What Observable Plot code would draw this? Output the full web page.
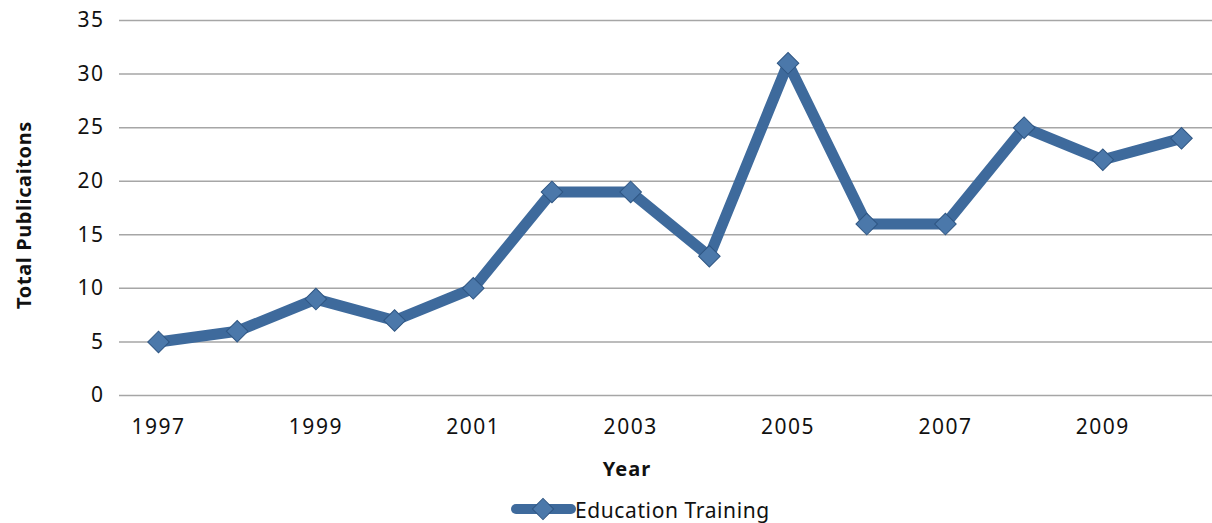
<!DOCTYPE html>
<html>
<head>
<meta charset="utf-8">
<script src="https://cdn.jsdelivr.net/npm/d3@7"></script>
<script src="https://cdn.jsdelivr.net/npm/@observablehq/plot@0.6"></script>
<style>
  html, body { margin: 0; padding: 0; background: #fff; }
  body { width: 1212px; height: 523px; overflow: hidden; font-family: "Noto Sans", "DejaVu Sans", sans-serif; }
  #legend { position: relative; height: 38px; }
  #legend svg { position: absolute; left: 510px; top: 9px; }
  #legend span { position: absolute; left: 575px; top: 12px; font-size: 21px; letter-spacing: 0.6px; color: #111; line-height: 26px; }
</style>
</head>
<body>
<div id="chart"></div>
<div id="legend"></div>
<script>
const years = [1997, 1998, 1999, 2000, 2001, 2002, 2003, 2004, 2005, 2006, 2007, 2008, 2009, 2010];
const publications = [5, 6, 9, 7, 10, 19, 19, 13, 31, 16, 16, 25, 22, 24];
const yTicks = [0, 5, 10, 15, 20, 25, 30, 35];
const xTicks = [1997, 1999, 2001, 2003, 2005, 2007, 2009];
const seriesName = "Education Training";

const data = years.map((y, i) => ({year: y, value: publications[i]}));
const lineColor = "#3e6a9c";
const dotColor = "#4b78aa";

const plot = Plot.plot({
  width: 1212,
  height: 485,
  marginLeft: 119,
  marginRight: 0,
  marginTop: 20,
  marginBottom: 90,
  style: {fontFamily: "'Noto Sans', 'DejaVu Sans', sans-serif", fontSize: "21px", letterSpacing: "1.5px", color: "#111", background: "#fff"},
  x: {domain: [1997, 2010], range: [158, 1181], ticks: xTicks, tickFormat: "d", tickSize: 0, tickPadding: 24, label: null},
  y: {domain: [0, 35], ticks: yTicks, tickSize: 0, tickPadding: 15, label: null},
  marks: [
    Plot.ruleY(yTicks, {stroke: "#a6a6a6", strokeWidth: 1.5}),
    Plot.line(data, {x: "year", y: "value", stroke: lineColor, strokeWidth: 11, strokeLinejoin: "miter", strokeLinecap: "butt"}),
    Plot.dot(data, {x: "year", y: "value", symbol: "square", r: 8.6, rotate: 45, fill: dotColor, stroke: "#2f5683", strokeWidth: 1})
  ]
});

const svg = d3.select(plot);
svg.append("text")
  .attr("x", 627).attr("y", 476)
  .attr("text-anchor", "middle")
  .attr("font-weight", "bold").attr("font-size", 20).attr("letter-spacing", "1px")
  .attr("fill", "#111")
  .text("Year");
svg.append("text")
  .attr("transform", "translate(31,215) rotate(-90)")
  .attr("text-anchor", "middle")
  .attr("font-weight", "bold").attr("font-size", 20).attr("letter-spacing", "0.6px")
  .attr("fill", "#111")
  .text("Total Publicaitons");

document.getElementById("chart").appendChild(plot);

// legend
const leg = d3.select("#legend");
const ls = leg.append("svg").attr("width", 66).attr("height", 30);
ls.append("line").attr("x1", 6).attr("x2", 61).attr("y1", 15).attr("y2", 15)
  .attr("stroke", lineColor).attr("stroke-width", 10).attr("stroke-linecap", "round");
ls.append("rect").attr("x", -7.5).attr("y", -7.5).attr("width", 15).attr("height", 15)
  .attr("transform", "translate(33,15) rotate(45)")
  .attr("fill", dotColor).attr("stroke", "#2f5683");
leg.append("span").text(seriesName);
</script>
</body>
</html>
